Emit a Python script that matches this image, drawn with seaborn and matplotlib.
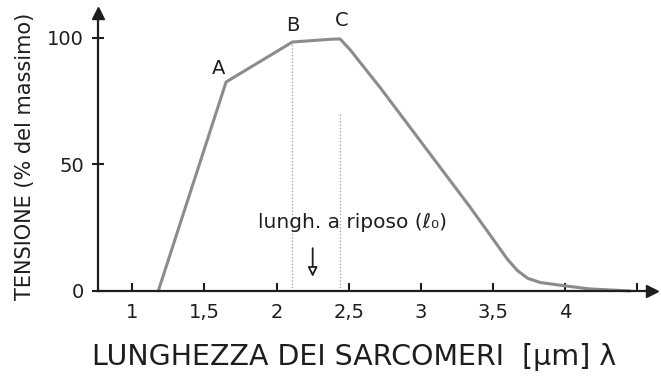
import matplotlib
matplotlib.use("Agg")
import matplotlib.pyplot as plt
import seaborn as sns
import pandas as pd

# Length-tension curve of a sarcomere
lunghezza = [1.18, 1.65, 2.11, 2.38, 2.44, 2.51, 2.72, 3.34, 3.50, 3.60,
             3.67, 3.74, 3.83, 4.00, 4.17, 4.45]
tensione = [0.0, 82.6, 98.4, 99.5, 99.6, 95.3, 80.2, 33.2, 20.5, 12.5,
            8.0, 5.0, 3.3, 2.0, 0.8, 0.0]

# Labelled points on the curve
punti_nome = ["A", "B", "C"]
punti_x = [1.65, 2.11, 2.44]
punti_y = [82.6, 98.4, 99.6]

# Axis ticks
x_ticks = [1.0, 1.5, 2.0, 2.5, 3.0, 3.5, 4.0, 4.5]
x_tick_labels = ["1", "1,5", "2", "2,5", "3", "3,5", "4", ""]
y_ticks = [0, 50, 100]
y_tick_labels = ["0", "50", "100"]

# Resting length marker
riposo_x = 2.25
riposo_testo = "lungh. a riposo (ℓ₀)"

df = pd.DataFrame({"lunghezza": lunghezza, "tensione": tensione})

sns.set_style("white")
plt.rcParams["font.family"] = ["DejaVu Sans"]

ink = "#1e1e1e"
fig = plt.figure(figsize=(6.61, 3.81), dpi=100)
ax = fig.add_axes([0, 0, 1, 1])
ax.set_xlim(0.083, 4.664)
ax.set_ylim(-35.6, 115.0)

# guide lines under B and C
ax.plot([punti_x[1], punti_x[1]], [0, punti_y[1]], color="#9a9a9a", lw=0.9, ls=":")
ax.plot([punti_x[2], punti_x[2]], [0, 70], color="#9a9a9a", lw=0.9, ls=":")

sns.lineplot(data=df, x="lunghezza", y="tensione", ax=ax, color="#8c8c8c",
             lw=2.2, estimator=None, sort=False)

# axes as arrows crossing at the origin
for side in ["top", "right"]:
    ax.spines[side].set_visible(False)
ax.spines["left"].set_position(("data", 0.76))
ax.spines["bottom"].set_position(("data", 0))
ax.spines["left"].set_bounds(0, 110)
ax.spines["bottom"].set_bounds(0.76, 4.6)
for side in ["left", "bottom"]:
    ax.spines[side].set_color(ink)
    ax.spines[side].set_linewidth(1.6)
ax.plot(0.76, 110, marker="^", color=ink, ms=9, clip_on=False)
ax.plot(4.6, 0, marker=">", color=ink, ms=9, clip_on=False)

ax.set_xticks(x_ticks, x_tick_labels)
ax.set_yticks(y_ticks, y_tick_labels)
ax.tick_params(axis="both", color=ink, labelcolor=ink, labelsize=14,
               width=1.5, bottom=True, left=True)
ax.tick_params(axis="x", direction="in", length=6, pad=9)
ax.tick_params(axis="y", direction="inout", length=8, pad=6)
ax.set_xlabel("")
ax.set_ylabel("")

offsets = {"A": (-0.05, 1.6), "B": (0.0, 2.8), "C": (0.01, 3.4)}
for nome, px, py in zip(punti_nome, punti_x, punti_y):
    ox, oy = offsets[nome]
    ax.text(px + ox, py + oy, nome, fontsize=14, color=ink,
            ha="center", va="bottom")

ax.text(2.525, 27.0, riposo_testo, fontsize=14.5, color=ink,
        ha="center", va="center")
ax.annotate("", xy=(riposo_x, 4.5), xytext=(riposo_x, 18),
            arrowprops=dict(arrowstyle="-|>", color=ink, lw=1.3,
                            fc="white", mutation_scale=14))

ax.text(2.54, -26.2, "LUNGHEZZA DEI SARCOMERI  [μm] λ", fontsize=20.5,
        color=ink, ha="center", va="center")
ax.text(0.255, 53, "TENSIONE (% del massimo)", fontsize=15, color=ink,
        ha="center", va="center", rotation=90)

fig.savefig("out.png", dpi=100)
